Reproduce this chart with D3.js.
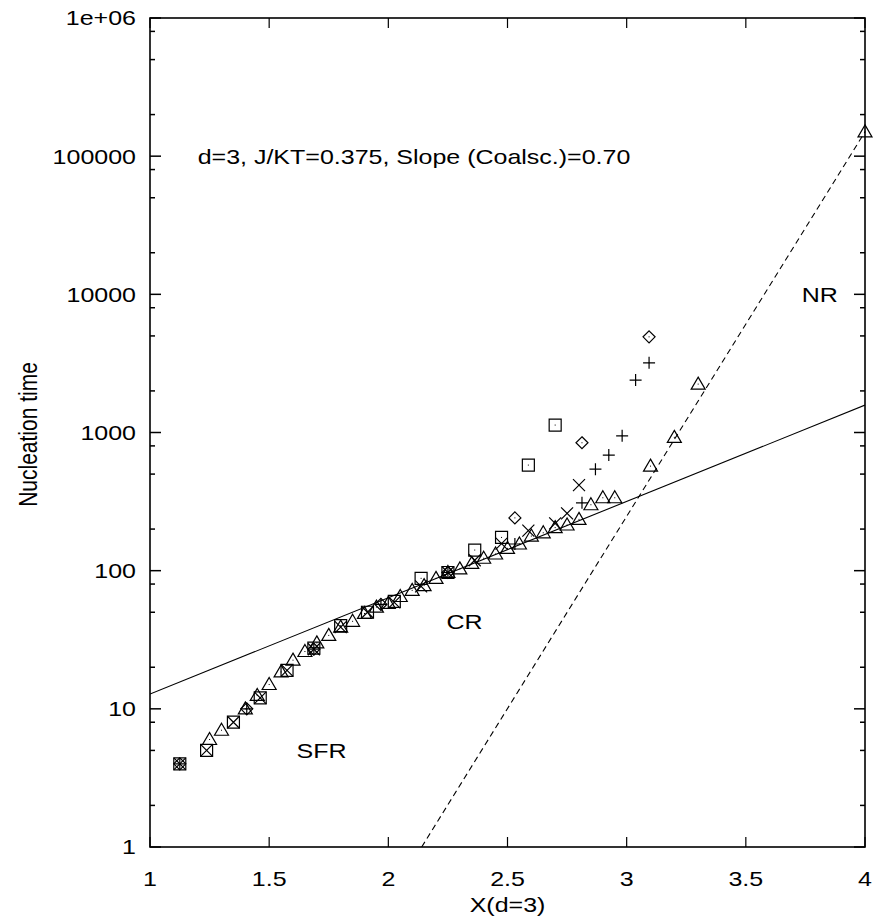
<!DOCTYPE html>
<html><head><meta charset="utf-8">
<script src="https://cdn.jsdelivr.net/npm/d3@7"></script>
<style>body{margin:0;background:#fff}svg{display:block}text{font-family:"Liberation Sans",Arial,sans-serif;fill:#000}</style>
</head><body><div id="chart"></div>
<script>
// ---- data ----
const xTicks = [1, 1.5, 2, 2.5, 3, 3.5, 4];
const xTickLabels = ["1", "1.5", "2", "2.5", "3", "3.5", "4"];
const yTicks = [1, 10, 100, 1000, 10000, 100000, 1000000];
const yTickLabels = ["1", "10", "100", "1000", "10000", "100000", "1e+06"];

const diamondX = [1.125, 1.406, 1.6875, 1.969, 2.25, 2.531, 2.8125, 3.094];
const diamondY = [4, 10, 27, 57, 97, 241, 843, 4925];

const plusX = [1.125, 1.406, 1.6875, 1.969, 2.25, 2.531, 2.8125, 2.869, 2.925, 2.981, 3.0375, 3.094];
const plusY = [4, 10, 27, 57, 97, 156, 310, 543, 686, 946, 2394, 3194];

const squareX = [1.125, 1.2375, 1.35, 1.4625, 1.575, 1.6875, 1.8, 1.9125, 2.025, 2.1375, 2.25, 2.3625, 2.475, 2.5875, 2.7];
const squareY = [4, 5, 8, 12, 19, 27.5, 40, 50, 60, 88, 97, 141, 174, 581, 1132];

const crossX = [1.125, 1.2375, 1.35, 1.4625, 1.575, 1.6875, 1.8, 1.9125, 2.025, 2.1375, 2.25, 2.3625, 2.475, 2.5875, 2.7, 2.75, 2.8];
const crossY = [4, 5, 8, 12, 19, 27, 39, 50, 59, 77, 97, 119, 157, 195, 220, 260, 416];

const triX = [1.25, 1.3, 1.4, 1.45, 1.5, 1.55, 1.6, 1.65, 1.7, 1.75, 1.8, 1.85, 1.9, 1.95, 2.0, 2.05, 2.1, 2.15, 2.2, 2.25, 2.3, 2.35, 2.4, 2.45, 2.5, 2.55, 2.6, 2.65, 2.7, 2.75, 2.8, 2.85, 2.9, 2.95, 3.1, 3.2, 3.3, 4.0];
const triY = [6, 7, 10, 12.5, 15, 18.5, 22.5, 26, 30, 34, 39, 43, 49, 54.5, 58, 65, 72, 78, 88, 97, 103, 113, 123, 132, 145, 156, 178, 188, 205, 214, 235, 300, 337, 337, 571, 922, 2240, 150000];

const coalFitX = [1, 4];
const coalFitY = [12.8, 1578];
const nrFitX = [2.14, 4];
const nrFitY = [1, 150000];

const labels = [
  {text: "d=3, J/KT=0.375, Slope (Coalsc.)=0.70", x: 1.2, y: 100000, anchor: "start"},
  {text: "NR", x: 3.81, y: 10000, anchor: "middle"},
  {text: "CR", x: 2.32, y: 43, anchor: "middle"},
  {text: "SFR", x: 1.72, y: 5, anchor: "middle"}
];

// ---- layout ----
const W = 876, H = 918;
const L = 150, R = 865, T = 18, B = 847;
const FS = 21, SX = 1.19;   // text is stretched horizontally in the original
const svg = d3.select("#chart").append("svg").attr("width", W).attr("height", H);
const x = d3.scaleLinear().domain([1, 4]).range([L, R]);
const y = d3.scaleLog().domain([1, 1e6]).range([B, T]);

function htext(px, py, str, anchor) {
  return svg.append("text")
    .attr("transform", `translate(${px},${py}) scale(${SX},1)`)
    .attr("dy", "0.35em").attr("text-anchor", anchor).attr("font-size", FS).text(str);
}

// minor ticks
const minorMult = [2, 5, 8];
const yMinor = [];
for (let e = 0; e < 6; e++) minorMult.forEach(m => yMinor.push(m * Math.pow(10, e)));

const g = svg.append("g");
yTicks.forEach(v => {
  g.append("line").attr("x1", L).attr("x2", L + 11).attr("y1", y(v)).attr("y2", y(v)).attr("stroke", "#000").attr("stroke-width", 1.5);
  g.append("line").attr("x1", R - 11).attr("x2", R).attr("y1", y(v)).attr("y2", y(v)).attr("stroke", "#000").attr("stroke-width", 1.5);
});
yMinor.forEach(v => {
  g.append("line").attr("x1", L).attr("x2", L + 5).attr("y1", y(v)).attr("y2", y(v)).attr("stroke", "#000").attr("stroke-width", 1.5);
  g.append("line").attr("x1", R - 5).attr("x2", R).attr("y1", y(v)).attr("y2", y(v)).attr("stroke", "#000").attr("stroke-width", 1.5);
});
xTicks.forEach(v => {
  g.append("line").attr("x1", x(v)).attr("x2", x(v)).attr("y1", B).attr("y2", B - 10).attr("stroke", "#000").attr("stroke-width", 1.2);
  g.append("line").attr("x1", x(v)).attr("x2", x(v)).attr("y1", T).attr("y2", T + 10).attr("stroke", "#000").attr("stroke-width", 1.2);
});
g.append("rect").attr("x", L).attr("y", T).attr("width", R - L).attr("height", B - T).attr("fill", "none").attr("stroke", "#000").attr("stroke-width", 1.6);

// tick labels
yTicks.forEach((v, i) => htext(L - 14, y(v), yTickLabels[i], "end"));
xTicks.forEach((v, i) => htext(x(v), B + 32, xTickLabels[i], "middle"));
htext((L + R) / 2, 905, "X(d=3)", "middle");
svg.append("text")
  .attr("transform", `translate(37,${(T + B) / 2 + 2}) scale(${SX},1) rotate(-90)`)
  .attr("text-anchor", "middle").attr("font-size", FS).text("Nucleation time");

// clip
svg.append("clipPath").attr("id", "clip").append("rect").attr("x", L).attr("y", T).attr("width", R - L).attr("height", B - T);
const plot = svg.append("g").attr("clip-path", "url(#clip)");

const line = d3.line().x(d => x(d[0])).y(d => y(d[1]));
plot.append("path").attr("d", line(d3.zip(coalFitX, coalFitY))).attr("fill", "none").attr("stroke", "#000").attr("stroke-width", 1.1);
plot.append("path").attr("d", line(d3.zip(nrFitX, nrFitY))).attr("fill", "none").attr("stroke", "#000").attr("stroke-width", 1.1).attr("stroke-dasharray", "6,4");

// symbols
const shapes = {
  diamond: "M0,-6L6,0L0,6L-6,0Z",
  plus: "M-6,0L6,0M0,-6L0,6",
  square: "M-6,-6L6,-6L6,6L-6,6Z",
  cross: "M-6,-6L6,6M-6,6L6,-6",
  tri: "M0,-7L7,5L-7,5Z"
};
function drawSeries(xs, ys, shape) {
  const sg = svg.append("g");
  d3.zip(xs, ys).forEach(p => {
    const gg = sg.append("g").attr("transform", `translate(${x(p[0])},${y(p[1])})`);
    gg.append("path").attr("d", shapes[shape]).attr("fill", "none").attr("stroke", "#000").attr("stroke-width", 1.2);
    gg.append("rect").attr("x", -0.5).attr("y", -0.5).attr("width", 1).attr("height", 1).attr("fill", "#000");
  });
}
drawSeries(diamondX, diamondY, "diamond");
drawSeries(plusX, plusY, "plus");
drawSeries(squareX, squareY, "square");
drawSeries(crossX, crossY, "cross");
drawSeries(triX, triY, "tri");

labels.forEach(l => htext(x(l.x), y(l.y), l.text, l.anchor));
</script></body></html>
